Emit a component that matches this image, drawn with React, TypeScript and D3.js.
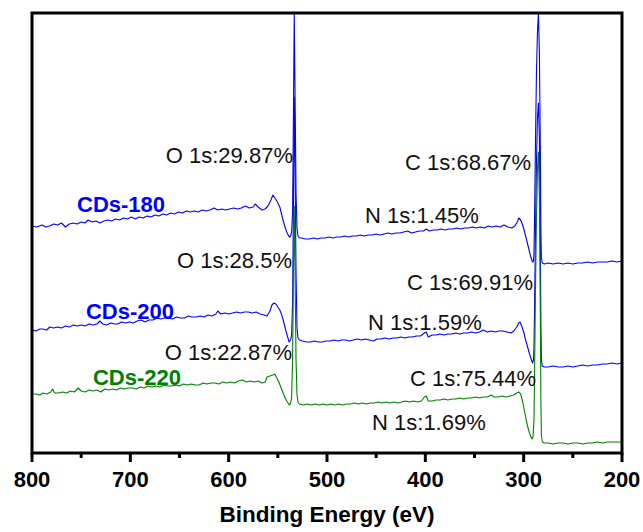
import React from 'react';
import * as d3 from 'd3';

// ---------- data ----------
const xMajorTicks = [800, 700, 600, 500, 400, 300, 200];
const xMinorTicks = [750, 650, 550, 450, 350, 250];
const xLabel = 'Binding Energy (eV)';
const seriesNames = ['CDs-180', 'CDs-200', 'CDs-220'];

// [binding energy (eV), intensity (a.u., stacked)]
const cds180: [number, number][] = [
  [800,227],[795,226],[790,228],[786,226],[782,227],[778,229],[774,228],[770,230],[766,226],[762,229],[758,230],[754,229],[750,231],[746,230],[743,233],[739,231],[735,232],[731,230],[727,232],[723,233],[719,232],[715,234],[711,233],[707,235],[703,234],[699,236],[695,234],[691,236],[687,235],[683,237],[679,236],[675,238],[671,237],[667,239],[663,238],[659,240],[655,239],[651,241],[647,240],[643,242],[639,241],[635,242],[631,241],[627,243],[623,242],[619,243],[615,245],[611,243],[607,244],[603,243],[599,244],[595,245],[591,244],[587,245],[583,247],[579,245],[575,246],[573,249],[570,246],[566,243],[563,244],[560,247],[557,253],[555,258],[553,255],[551,252],[548,246],[545,234],[543,227],[541,221],[539,217],[538,216],[537,217],[536,221],[535,240],[534.2,330],[533.3,440],[532.5,360],[531.5,260],[530.5,225],[529.5,217],[528,215],
  [526,215],[522,214],[518,214],[514,215],[510,214],[506,215],[502,215],[498,216],[494,215],[490,216],[486,216],[482,217],[478,216],[474,217],[470,217],[466,218],[462,217],[458,218],[454,218],[450,219],[446,218],[442,219],[438,220],[434,219],[430,220],[426,220],[422,221],[418,222],[414,220],[410,221],[406,222],[402,222],[399,224],[396,222],[392,223],[388,223],[384,224],[380,223],[376,224],[372,224],[368,225],[364,224],[360,225],[356,225],[352,226],[348,225],[344,226],[340,225],[336,227],[332,226],[328,227],[324,226],[320,228],[316,226],[312,225],[309,227],[306,232],[305,235],[303,233],[301,228],[299,221],[297,213],[295,205],[293,197],[291,191],[290,192],[289.5,200],[289,230],[288,310],[287,380],[286,420],[285,440],[284,400],[283,300],[282.5,225],[282,195],[281,190],[279,189],[275,190],[270,189],[265,190],[260,189],[255,190],[250,189],[245,190],[240,190],[235,191],[230,190],[225,191],[220,191],[215,191],[210,192],[205,191],[200,192],
];

const cds200: [number, number][] = [
  [800,123],[796,122],[792,124],[789,124],[785,123],[782,126],[778,125],[774,126],[770,125],[766,127],[762,126],[758,128],[754,127],[750,128],[746,127],[742,129],[738,128],[734,129],[731,132],[728,129],[724,128],[720,130],[716,129],[713,129],[709,131],[705,130],[701,131],[697,130],[693,132],[689,133],[685,131],[681,133],[677,133],[673,135],[669,134],[665,135],[661,135],[657,134],[653,136],[649,135],[645,135],[641,137],[637,136],[633,136],[629,137],[625,136],[621,138],[617,137],[613,139],[611,142],[608,139],[604,140],[600,139],[596,140],[592,141],[588,140],[584,141],[580,141],[576,140],[572,141],[568,139],[564,138],[561,137],[558,142],[556,148],[554,150],[552,149],[550,146],[548,143],[546,138],[544,131],[542,123],[540,116],[538.6,111],[537,113],[536,118],[535,150],[534.2,240],[533.3,356],[532.5,290],[531.5,180],[530.5,125],[529.5,115],[528,113],
  [525,112],[521,111],[517,111],[513,112],[509,111],[505,111],[501,112],[497,112],[493,113],[489,112],[485,113],[481,113],[477,112],[473,113],[469,114],[465,113],[461,114],[457,113],[453,112],[449,114],[445,114],[441,115],[437,114],[433,115],[429,115],[425,116],[421,115],[417,116],[413,116],[409,117],[405,117],[401,120],[399,121],[397,116],[393,118],[389,118],[385,119],[381,118],[377,119],[373,119],[369,120],[365,119],[361,120],[357,120],[353,121],[349,120],[345,121],[341,123],[337,121],[333,122],[329,121],[325,122],[321,122],[317,121],[313,120],[310,122],[307,126],[305,130],[303.7,131],[302,127],[300,121],[298,113],[296,106],[294,99],[292,93],[291,90],[290,93],[289.5,105],[289,140],[288,220],[287,290],[286,335],[285,350],[284,315],[283,210],[282.5,130],[282,93],[281,87],[279,86],[275,86],[270,87],[265,86],[260,86],[255,87],[250,86],[245,87],[240,88],[235,87],[230,88],[225,88],[220,89],[215,89],[210,90],[205,89],[200,90],
];

const cds220: [number, number][] = [
  [800,59],[796,59],[792,58],[789,60],[785,59],[781,61],[779,64],[777,60],[773,60],[769,61],[765,60],[761,62],[757,61],[753,65],[750,62],[746,61],[742,63],[738,62],[734,63],[730,61],[726,64],[722,63],[718,64],[714,63],[710,65],[706,64],[702,65],[698,65],[694,64],[690,66],[686,65],[682,67],[678,66],[674,67],[670,66],[666,68],[662,67],[658,67],[654,68],[650,67],[646,69],[642,68],[638,69],[634,68],[630,68],[626,70],[622,69],[618,70],[614,70],[610,69],[606,71],[602,70],[598,71],[594,70],[590,72],[586,73],[582,71],[578,72],[574,71],[570,72],[566,70],[563,71],[561,76],[558,77],[555,78],[553,79],[551,75],[549,71],[547,66],[545,61],[543,56],[541,52],[539,49],[538,48],[537,50],[536,55],[535,93],[534.2,173],[533.3,247],[532.5,183],[531.5,93],[530.5,58],[529.5,51],[528,49],
  [524,48],[520,49],[516,48],[512,49],[508,48],[504,49],[500,48],[496,49],[492,48],[488,49],[484,48],[480,49],[476,49],[472,50],[468,49],[464,50],[460,49],[456,50],[452,50],[448,51],[444,50],[440,51],[436,50],[432,51],[428,50],[424,51],[420,52],[416,51],[412,52],[408,51],[404,52],[401,56],[399,57],[397,52],[393,52],[389,53],[385,53],[381,54],[377,53],[373,54],[369,54],[365,55],[361,54],[357,55],[353,55],[349,56],[345,55],[341,56],[337,56],[333,58],[330,56],[326,56],[322,57],[318,56],[314,57],[310,58],[307,60],[305,61],[303,59],[301,51],[299,41],[297,31],[295,23],[293,17],[291.5,14],[290.5,16],[289.5,33],[289,73],[288,163],[287,233],[286,283],[285,301],[284,253],[283,133],[282.5,53],[282,18],[281,11],[279,10],[275,10],[270,9],[265,10],[260,10],[255,9],[250,10],[245,10],[240,9],[235,10],[230,10],[225,11],[220,10],[215,11],[210,11],[205,11],[200,11],
];

// annotation texts and anchors in data units [eV, intensity]
const peakLabels = ['O 1s:29.87%', 'C 1s:68.67%', 'N 1s:1.45%', 'O 1s:28.5%', 'C 1s:69.91%', 'N 1s:1.59%', 'O 1s:22.87%', 'C 1s:75.44%', 'N 1s:1.69%'];
const peakLabelAnchors: [number, number][] = [
  [534.6, 290], [292.5, 283], [461.3, 230],
  [535.6, 185], [290.5, 163], [458.3, 123],
  [535.6, 93], [287.4, 67], [454.2, 23],
];
const seriesLabelAnchors: [number, number][] = [[754.2, 241], [745.1, 134], [738.0, 68]];

// ---------- layout / style ----------
const W = 643;
const H = 532;
const M = { left: 32, right: 21, top: 13, bottom: 79 };
const FONT = "Arial, 'Liberation Sans', Helvetica, sans-serif";
const colors = ['#0000ff', '#0000ff', '#008000'];
const peakAnchorsSide = ['end', 'end', 'start', 'end', 'end', 'start', 'end', 'end', 'start'];

export default function App() {
  const x = d3.scaleLinear().domain([800, 200]).range([M.left, W - M.right]);
  const y = d3.scaleLinear().domain([0, 440]).range([H - M.bottom, M.top]);
  const line = d3
    .line<[number, number]>()
    .x((d) => x(d[0]))
    .y((d) => y(d[1]));
  const series = [cds180, cds200, cds220];
  const bottom = H - M.bottom;

  return (
    <svg
      width={W}
      height={H}
      style={{ position: 'absolute', left: 0, top: 0, background: '#fff' }}
      fontFamily={FONT}
    >
      <defs>
        <clipPath id="plotClip">
          <rect x={M.left} y={M.top} width={W - M.left - M.right} height={bottom - M.top} />
        </clipPath>
      </defs>
      <rect x={0} y={0} width={W} height={H} fill="#fff" />
      <g clipPath="url(#plotClip)">
        {series.map((s, i) => (
          <path key={i} d={line(s) || ''} fill="none" stroke={colors[i]} strokeWidth={1.1} strokeLinejoin="round" />
        ))}
      </g>
      {/* frame */}
      <rect
        x={M.left}
        y={M.top}
        width={W - M.left - M.right}
        height={bottom - M.top}
        fill="none"
        stroke="#000"
        strokeWidth={3}
      />
      {/* ticks */}
      {xMajorTicks.map((t) => (
        <line key={'M' + t} x1={x(t)} x2={x(t)} y1={bottom} y2={bottom + 9} stroke="#000" strokeWidth={3} />
      ))}
      {xMinorTicks.map((t) => (
        <line key={'m' + t} x1={x(t)} x2={x(t)} y1={bottom} y2={bottom + 5} stroke="#000" strokeWidth={3} />
      ))}
      {xMajorTicks.map((t) => (
        <text key={'l' + t} x={x(t)} y={487} textAnchor="middle" fontSize={22} fontWeight="bold" fill="#000">
          {t}
        </text>
      ))}
      <text x={(M.left + W - M.right) / 2} y={522} textAnchor="middle" fontSize={22.5} fontWeight="bold" fill="#000">
        {xLabel}
      </text>
      {/* series labels */}
      {seriesNames.map((n, i) => (
        <text
          key={n}
          x={x(seriesLabelAnchors[i][0])}
          y={y(seriesLabelAnchors[i][1])}
          fontSize={22}
          fontWeight="bold"
          fill={colors[i]}
        >
          {n}
        </text>
      ))}
      {/* peak labels */}
      {peakLabels.map((t, i) => (
        <text
          key={t}
          x={x(peakLabelAnchors[i][0])}
          y={y(peakLabelAnchors[i][1])}
          textAnchor={peakAnchorsSide[i] as any}
          fontSize={22}
          fill="#111"
        >
          {t}
        </text>
      ))}
    </svg>
  );
}
